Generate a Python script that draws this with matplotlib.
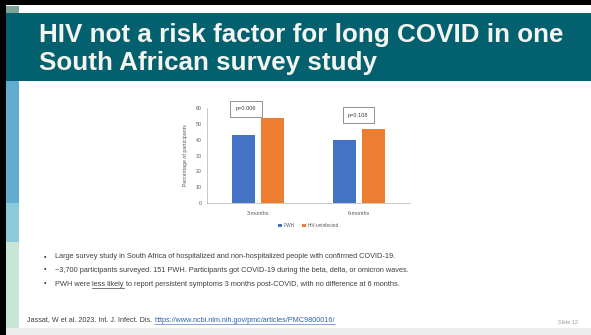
import matplotlib
matplotlib.use("Agg")
import matplotlib.pyplot as plt
from matplotlib.patches import Rectangle
import numpy as np

# ---- data ----
categories = ["3-months", "6-months"]
series_names = ["PWH", "HIV-uninfected"]
pwh_values = [43, 40]
uninfected_values = [54, 47]
p_labels = ["p=0.006", "p=0.108"]
y_ticks = [0, 10, 20, 30, 40, 50, 60]

title_lines = ["HIV not a risk factor for long COVID in one", "South African survey study"]
bullets = [
    "Large survey study in South Africa of hospitalized and non-hospitalized people with confirmed COVID-19.",
    "~3,700 participants surveyed. 151 PWH. Participants got COVID-19 during the beta, delta, or omicron waves.",
    "PWH were less likely to report persistent symptoms 3 months post-COVID, with no difference at 6 months.",
]
citation = "Jassat, W et al. 2023. Int. J. Infect. Dis. "
link = "https://www.ncbi.nlm.nih.gov/pmc/articles/PMC9800016/"
slide_no = "Slide 12"

W, H = 591, 335
fig = plt.figure(figsize=(W / 100, H / 100), dpi=100)
plt.rcParams['font.family'] = ['Liberation Sans', 'DejaVu Sans']

bg = fig.add_axes([0, 0, 1, 1])
bg.set_xlim(0, W)
bg.set_ylim(H, 0)
bg.axis("off")

def rect(x, y, w, h, c):
    bg.add_patch(Rectangle((x, y), w, h, color=c, lw=0))

rect(0, 0, W, H, "white")
rect(0, 0, W, 5, "black")
rect(0, 0, 6, H, "black")
rect(6, 6, 13, 7, "#7fa394")
rect(6, 13, W - 6, 68, "#02606f")
rect(6, 81, 13, 122, "#62abd1")
rect(6, 203, 13, 39, "#8ccadb")
rect(6, 242, 13, 86, "#c7e6d5")
rect(6, 328, W - 6, 7, "#ececec")

bg.text(39, 42, title_lines[0], color="#f4f4f0", fontsize=18.7, fontweight="bold",
        va="baseline", ha="left")
bg.text(39, 70, title_lines[1], color="#f4f4f0", fontsize=18.7, fontweight="bold",
        va="baseline", ha="left")

fig.canvas.draw()
r = fig.canvas.get_renderer()

bullet_y = [257, 270, 284]
fs_b = 5.3
for yy, t in zip(bullet_y, bullets):
    bg.text(44, yy, "•", color="#404040", fontsize=5.2, va="center", ha="left")
    if "less likely" in t:
        pre, post = t.split("less likely")
        t1 = bg.text(55, yy, pre, color="#404040", fontsize=fs_b, va="center", ha="left")
        bb = t1.get_window_extent(r)
        t2 = bg.text(bb.x1, H - yy, "less likely", color="#404040", fontsize=fs_b,
                     va="center", ha="left", transform=None)
        bb2 = t2.get_window_extent(r)
        bg.plot([bb2.x0, bb2.x1], [H - yy - 4.0, H - yy - 4.0], color="#404040", lw=0.5,
                transform=None)
        bg.text(bb2.x1, H - yy, post, color="#404040", fontsize=fs_b, va="center", ha="left",
                transform=None)
    else:
        bg.text(55, yy, t, color="#404040", fontsize=fs_b, va="center", ha="left")

fs_c = 5.2
c1 = bg.text(27, 320, citation, color="#404040", fontsize=fs_c, va="center", ha="left")
bbc = c1.get_window_extent(r)
lt = bg.text(bbc.x1, H - 320, link, color="#2f5fb3", fontsize=fs_c, va="center", ha="left",
             transform=None)
bbl = lt.get_window_extent(r)
bg.plot([bbl.x0, bbl.x1], [H - 323.5, H - 323.5], color="#2f5fb3", lw=0.4, transform=None)
bg.text(578, 322, slide_no, color="#a0a0a0", fontsize=4.0, va="center", ha="right")

# ---- chart ----
ax_l, ax_r, ax_top, ax_bot = 207, 410, 108.3, 202.7
ax = fig.add_axes([ax_l / W, (H - ax_bot) / H, (ax_r - ax_l) / W, (ax_bot - ax_top) / H])
ax.set_facecolor("none")
x = np.arange(len(categories))
bw = 0.227
off = 0.143
ax.bar(x - off, pwh_values, bw, color="#4472c4", label=series_names[0])
ax.bar(x + off, uninfected_values, bw, color="#ed7d31", label=series_names[1])
ax.set_xlim(-0.5, 1.5)
ax.set_ylim(0, 60)
ax.set_yticks(y_ticks)
ax.set_xticks(x)
ax.set_xticklabels(categories)
ax.tick_params(axis="y", labelsize=3.8, colors="#595959", length=0, pad=4)
ax.tick_params(axis="x", labelsize=3.8, colors="#595959", length=0, pad=6)
for s in ["top", "right"]:
    ax.spines[s].set_visible(False)
for s in ["left", "bottom"]:
    ax.spines[s].set_color("#bfbfbf")
    ax.spines[s].set_linewidth(0.6)
ax.set_ylabel("Percentage of participants", fontsize=3.8, color="#595959", labelpad=5)

box_pos = [(-0.115, 59.6), (0.99, 55.7)]
for (bx, by), lab in zip(box_pos, p_labels):
    ax.text(bx, by, lab, fontsize=4.1, color="#404040", ha="center", va="center",
            clip_on=False,
            bbox=dict(boxstyle="square,pad=0.95", fc="white", ec="#7f7f7f", lw=0.6))

leg = ax.legend(loc="upper center", bbox_to_anchor=(0.5, -0.17), ncol=2, frameon=False,
                fontsize=3.4, handlelength=0.8, handleheight=0.8, columnspacing=1.5,
                handletextpad=0.4, labelcolor="#595959")

fig.savefig("out.png", dpi=100)
